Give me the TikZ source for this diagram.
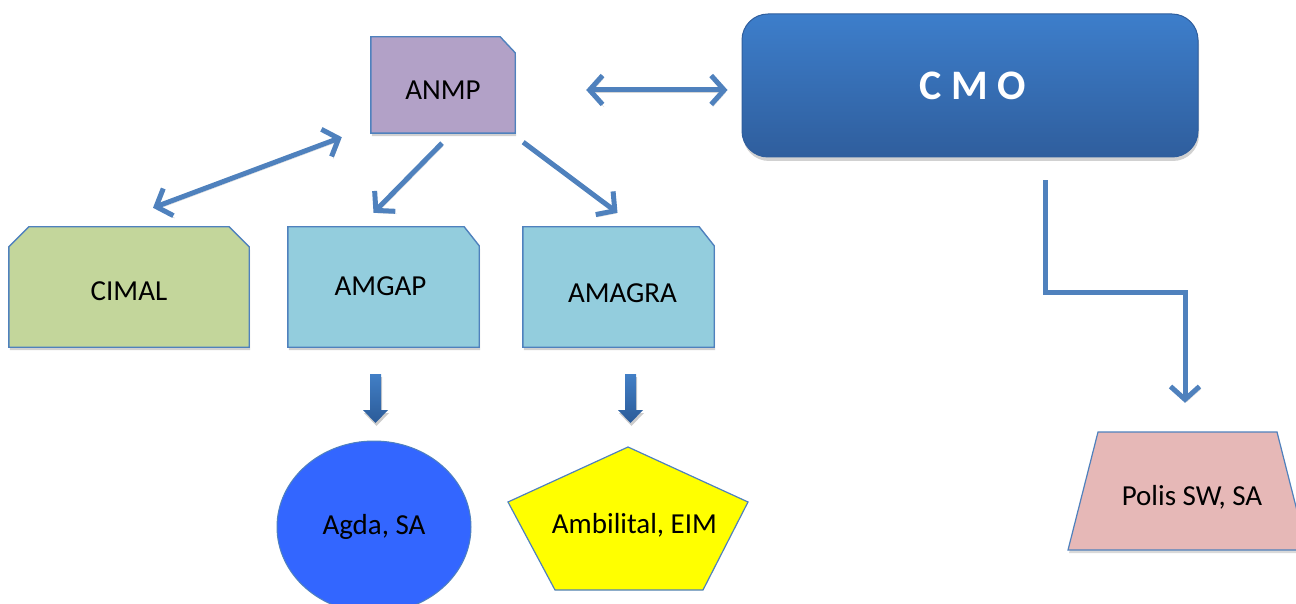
\documentclass[tikz,border=0pt]{standalone}
\usepackage{fontspec}
\setmainfont{Carlito}
\usetikzlibrary{arrows.meta,shadows,backgrounds,shapes.geometric}
\definecolor{lnblue}{HTML}{4F81BD}
\definecolor{anmpc}{HTML}{B2A1C7}
\definecolor{cimalc}{HTML}{C3D69B}
\definecolor{amc}{HTML}{93CDDD}
\definecolor{cmotop}{HTML}{3D7ECB}
\definecolor{cmobot}{HTML}{2F5E9D}
\definecolor{agdac}{HTML}{3366FF}
\definecolor{ambic}{HTML}{FFFF00}
\definecolor{polisc}{HTML}{E6B8B7}
\definecolor{barrtop}{HTML}{427FC6}
\definecolor{barrbot}{HTML}{2B5B98}
\begin{document}
\begin{tikzpicture}[x=1pt,y=-1pt,
  lbl/.style={font=\fontsize{29}{33}\selectfont, text=black, inner sep=0pt},
  boxbase/.style={inner sep=0pt, draw=none},
  outline/.style={draw=lnblue, line width=1.4pt, line join=miter,
    drop shadow={shadow xshift=1pt,shadow yshift=-3pt,fill=black,opacity=.18}},
  conn/.style={draw=lnblue, line width=5pt,
    preaction={draw=black!16, transform canvas={xshift=1.5pt,yshift=-2.5pt}}},
  barb/.tip={Straight Barb[length=13pt,width=29pt]},
  dbl/.style={conn, barb-barb},
  sgl/.style={conn, -barb},
  blockarrow/.style={top color=barrtop, bottom color=barrbot, draw=none,
    drop shadow={shadow xshift=1pt,shadow yshift=-3pt,fill=black,opacity=.2}}
]
\useasboundingbox (0,0) rectangle (1296,604);
\clip (0,0) rectangle (1296,604);

% --- boxes (text as labels, shapes drawn on background) ---
\node[boxbase, minimum width=144pt, minimum height=96pt,
  label={[lbl, yshift=-5pt]center:ANMP}] (anmp) at (443,85) {};
\node[boxbase, minimum width=240pt, minimum height=120pt,
  label={[lbl, yshift=-4pt]center:CIMAL}] (cimal) at (129,287) {};
\node[boxbase, minimum width=191pt, minimum height=120pt,
  label={[lbl, xshift=-3pt, yshift=1pt]center:AMGAP}] (amgap) at (383.5,287) {};
\node[boxbase, minimum width=191pt, minimum height=120pt,
  label={[lbl, xshift=4pt, yshift=-6pt]center:AMAGRA}] (amagra) at (618.5,287) {};

\begin{scope}[on background layer]
  \path[outline, fill=anmpc] (anmp.north west) -- ([xshift=-15pt]anmp.north east)
    -- ([yshift=-16pt]anmp.north east) -- (anmp.south east) -- (anmp.south west) -- cycle;
  \path[outline, fill=cimalc] (cimal.south west) -- ([yshift=-20pt]cimal.north west)
    -- ([xshift=20pt]cimal.north west) -- ([xshift=-20pt]cimal.north east)
    -- ([yshift=-20pt]cimal.north east) -- (cimal.south east) -- cycle;
  \path[outline, fill=amc] (amgap.north west) -- ([xshift=-15pt]amgap.north east)
    -- ([yshift=-19pt]amgap.north east) -- (amgap.south east) -- (amgap.south west) -- cycle;
  \path[outline, fill=amc] (amagra.north west) -- ([xshift=-15pt]amagra.north east)
    -- ([yshift=-19pt]amagra.north east) -- (amagra.south east) -- (amagra.south west) -- cycle;
\end{scope}

% --- CMO ---
\node[draw=cmobot, line width=1pt, top color=cmotop, bottom color=cmobot,
  rounded corners=26pt, minimum width=456pt, minimum height=143pt,
  drop shadow={shadow xshift=1pt,shadow yshift=-4pt,fill=black,opacity=.18},
  text=white, font=\fontsize{42}{46}\selectfont\bfseries] (cmo) at (970,85.5)
  {\hspace*{6pt}C M O};

% --- bottom shapes ---
\node[ellipse, draw=lnblue, line width=1pt, fill=agdac, minimum width=194pt,
  minimum height=172pt, lbl] (agda) at (374,527) {Agda, SA};

\path[draw=lnblue, line width=1.2pt, fill=ambic] (628,447) -- (748,502) -- (703,590)
  -- (555,590) -- (508,502) -- cycle;
\node[lbl] (ambi) at (634.5,525) {Ambilital, EIM};

\path[draw=lnblue, line width=1.2pt, fill=polisc,
  drop shadow={shadow xshift=1pt,shadow yshift=-3pt,fill=black,opacity=.15}]
  (1098,432) -- (1277,432) -- (1307,550) -- (1068,550) -- cycle;
\node[lbl, minimum height=120pt] (polis) at (1192,497) {Polis SW, SA};

% --- block arrows ---
\path[blockarrow] (370,374) -- (381,374) -- (381,410) -- (388,410) -- (375.5,423)
  -- (363,410) -- (370,410) -- cycle;
\path[blockarrow] (625,374) -- (636,374) -- (636,410) -- (643,410) -- (630.5,423)
  -- (618,410) -- (625,410) -- cycle;

% --- connectors ---
\draw[dbl] ([xshift=71pt,yshift=-5pt]anmp.east) -- ([xshift=-14pt,yshift=-4.5pt]cmo.west);
\draw[dbl] ([xshift=-29pt,yshift=-4pt]anmp.south west) -- ([xshift=24pt,yshift=19pt]cimal.north);
\draw[sgl] ([xshift=-1pt,yshift=-10pt]anmp.south) -- ([xshift=-10pt,yshift=14pt]amgap.north);
\draw[sgl] ([xshift=8pt,yshift=-9pt]anmp.south east) -- ([xshift=-1pt,yshift=14pt]amagra.north);

\coordinate (bend) at (1100,292);
\draw[sgl, line cap=butt] ([xshift=75pt,yshift=-23pt]cmo.south) |- (bend) -| ([xshift=-7pt,yshift=34pt]polis.north);
\end{tikzpicture}
\end{document}
